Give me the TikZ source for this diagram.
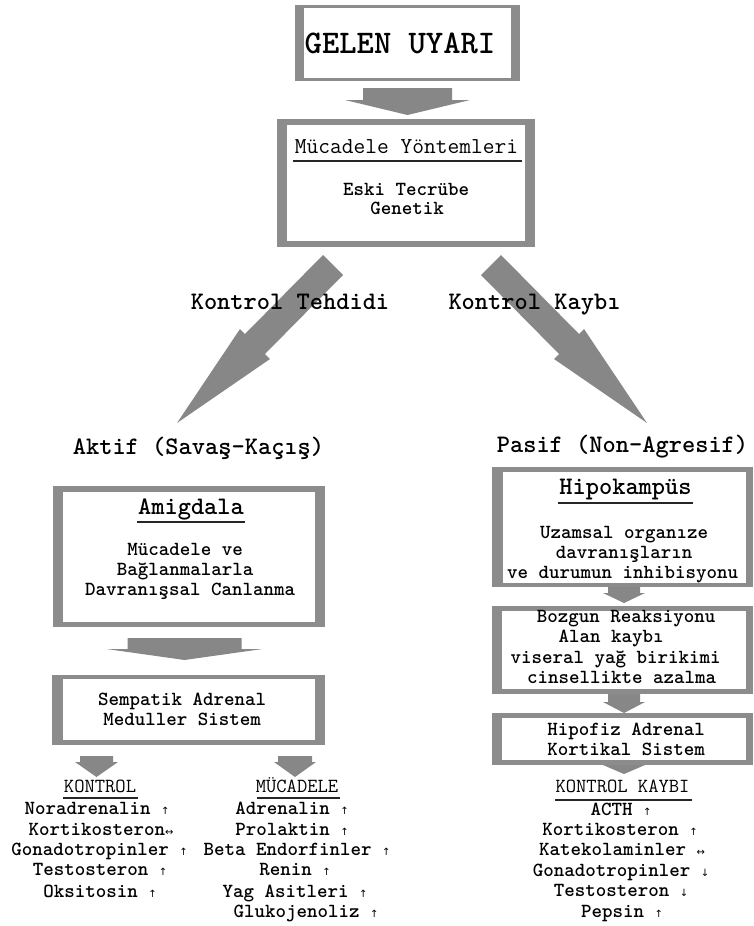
\documentclass[tikz,border=0pt]{standalone}
\usepackage{fontspec}
\newfontfamily\arrfont{DejaVu Sans}
\definecolor{fg}{RGB}{140,140,140}
\definecolor{ag}{RGB}{135,135,135}
\newcommand\arU{{\arrfont\mdseries\fontsize{10}{10}\selectfont ↑}}
\newcommand\arD{{\arrfont\mdseries\fontsize{10}{10}\selectfont ↓}}
\newcommand\arLR{{\arrfont\mdseries\fontsize{10}{10}\selectfont ↔}}
\newcommand\bdown[6]{\fill[ag] ({#1-#3},#2) -- ({#1+#3},#2) -- ({#1+#3},#4) -- ({#1+#5},#4) -- (#1,#6) -- ({#1-#5},#4) -- ({#1-#3},#4) -- cycle;}
\begin{document}
\begin{tikzpicture}[x=1pt,y=-1pt,
  inner/.style={fill=white,inner sep=0pt},
  tx/.style={anchor=base,inner sep=0pt,font=\ttfamily\bfseries\fontsize{20}{22}\selectfont},
  hd/.style={anchor=base,inner sep=0pt,font=\ttfamily\bfseries\fontsize{25.2}{28}\selectfont},
  hr/.style={anchor=base,inner sep=0pt,font=\ttfamily\fontsize{20}{22}\selectfont},
  rl/.style={line width=2pt,black!85}]
\useasboundingbox (0,0) rectangle (753,926);

% block arrows
\bdown{407.5}{88}{44.5}{100}{62.5}{115}
\bdown{184.5}{638}{57}{649}{78}{660}
\bdown{96.5}{756}{16.5}{762}{21.5}{777}
\bdown{295}{756}{17}{762}{21}{777}
\bdown{624}{585}{16}{593}{21}{603}
\bdown{624}{692}{16}{702}{21}{713}
\bdown{624}{758}{15}{765}{21}{774}
\fill[ag] (323,255) -- (245,334) -- (240,329) -- (177,423) -- (270,359) -- (265,354) -- (343,275) -- cycle;
\fill[ag] (501,255) -- (579,334) -- (584,329) -- (647,423) -- (554,359) -- (559,354) -- (481,275) -- cycle;

% boxes
\fill[fg] (295,5) rectangle (520,81);
\fill[inner] (304,8) rectangle (511,78);
\fill[fg] (277,119) rectangle (535,247);
\fill[inner] (287,125) rectangle (525,241);
\fill[fg] (53,486) rectangle (325,627);
\fill[inner] (63,492) rectangle (315,622);
\fill[fg] (52,675) rectangle (325,745);
\fill[inner] (63,679) rectangle (315,740);
\fill[fg] (492,467) rectangle (753,587);
\fill[inner] (503,472) rectangle (746,583);
\fill[fg] (492,606) rectangle (753,694);
\fill[inner] (502,611) rectangle (746,689);
\fill[fg] (492,713) rectangle (753,765);
\fill[inner] (502,718) rectangle (746,760);

% texts
\node[anchor=base,inner sep=0pt,font=\ttfamily\bfseries\fontsize{33}{36}\selectfont] (gelen) at (400,53) {GELEN UYARI};
\node[anchor=base,inner sep=0pt,font=\ttfamily\fontsize{22.8}{26}\selectfont] (myt) at (406.5,153) {Mücadele Yöntemleri};
\draw[rl] (293,161) -- (522,161);
\node[tx] (eski) at (406,195.5) {Eski Tecrübe};
\node[tx] (gen) at (407,214.5) {Genetik};

\node[hd] (kt) at (290,309) {Kontrol Tehdidi};
\node[hd] (kk) at (534.5,309) {Kontrol Kaybı};
\node[hd] (aktif) at (198.5,454) {Aktif (Savaş-Kaçış)};
\node[hd] (pasif) at (622.5,452) {Pasif (Non-Agresif)};

\node[hd] (amig) at (191,514) {Amigdala};
\draw[rl] (137,522) -- (245,522);
\node[tx] (am1) at (185,555.5) {Mücadele ve};
\node[tx] (am2) at (185,575.5) {Bağlanmalarla};
\node[tx] (am3) at (190,595.5) {Davranışsal Canlanma};

\node[tx] (sa1) at (182,705.5) {Sempatik Adrenal};
\node[tx] (sa2) at (182,725.5) {Meduller Sistem};

\node[hr] (kon) at (100,792.5) {KONTROL};
\draw[line width=1.5pt,black!85] (63,798) -- (138,798);
\node[tx] (k1) at (97,814.5) {Noradrenalin \arU};
\node[tx] (k2) at (101,835.5) {Kortikosteron\arLR};
\node[tx] (k3) at (99.5,855.5) {Gonadotropinler \arU};
\node[tx] (k4) at (100,875.5) {Testosteron \arU};
\node[tx] (k5) at (100,897.5) {Oksitosin \arU};

\node[hr] (muc) at (297,792.5) {MÜCADELE};
\draw[line width=1.5pt,black!85] (257,798) -- (340,798);
\node[tx] (m1) at (292,814.5) {Adrenalin \arU};
\node[tx] (m2) at (292,835.5) {Prolaktin \arU};
\node[tx] (m3) at (297,855.5) {Beta Endorfinler \arU};
\node[tx] (m4) at (295,875.5) {Renin \arU};
\node[tx] (m5) at (295,897.5) {Yag Asitleri \arU};
\node[tx] (m6) at (306,917.5) {Glukojenoliz \arU};

\node[hd] (hipo) at (625.5,494) {Hipokampüs};
\draw[rl] (558,503) -- (693,503);
\node[tx] (h1) at (624,538.5) {Uzamsal organıze};
\node[tx] (h2) at (624,558.5) {davranışların};
\node[tx] (h3) at (622.5,578.5) {ve durumun inhibisyonu};

\node[tx] (b1) at (626,622.5) {Bozgun Reaksiyonu};
\node[tx] (b2) at (611,642.5) {Alan kaybı};
\node[tx] (b3) at (615.5,663.5) {viseral yağ birikimi};
\node[tx] (b4) at (621.5,683.5) {cinsellikte azalma};

\node[tx] (p1) at (626,735.5) {Hipofiz Adrenal};
\node[tx] (p2) at (626,755.5) {Kortikal Sistem};

\node[hr] (kky) at (622.5,792.5) {KONTROL KAYBI};
\draw[line width=1.5pt,black!85] (555,800) -- (692,800);
\node[tx] (r1) at (621,815.5) {ACTH \arU};
\node[tx] (r2) at (620,835.5) {Kortikosteron \arU};
\node[tx] (r3) at (622,855.5) {Katekolaminler \arLR};
\node[tx] (r4) at (621,876.5) {Gonadotropinler \arD};
\node[tx] (r5) at (621,896.5) {Testosteron \arD};
\node[tx] (r6) at (622,917.5) {Pepsin \arU};
\end{tikzpicture}
\end{document}
